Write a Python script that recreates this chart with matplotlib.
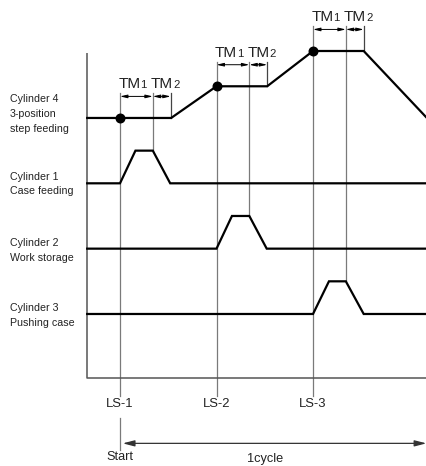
import matplotlib
matplotlib.use('Agg')
import matplotlib.pyplot as plt

plt.rcParams['font.family'] = ['Liberation Sans', 'DejaVu Sans']

# limit switch timings (time units) and their labels
ls_times = [0, 100, 200]
ls_labels = ['LS-1', 'LS-2', 'LS-3']
tm1 = 34      # timer 1 duration
tm2 = 18.5    # timer 2 duration

# signal break points: (time, level)
cyl4_t = [-34, 53, 100, 152.5, 200, 252.5, 318]
cyl4_lv = [0, 0, 0.97, 0.97, 2.05, 2.05, 0]
cyl1_t = [-34, 0, 16, 34, 52, 318]
cyl1_lv = [0, 0, 1, 1, 0, 0]
cyl2_t = [-34, 100, 116, 134, 152, 318]
cyl2_lv = [0, 0, 1, 1, 0, 0]
cyl3_t = [-34, 200, 216.5, 234, 252.5, 318]
cyl3_lv = [0, 0, 1, 1, 0, 0]

# rows: (base offset, times, levels, label)
rows = [
    (6, cyl4_t, cyl4_lv, 'Cylinder 4\n3-position\nstep feeding'),
    (4, cyl1_t, cyl1_lv, 'Cylinder 1\nCase feeding'),
    (2, cyl2_t, cyl2_lv, 'Cylinder 2\nWork storage'),
    (0, cyl3_t, cyl3_lv, 'Cylinder 3\nPushing case'),
]
label_y = [6.12, 3.98, 1.94, -0.05]
cyl4_steps = [0, 0.97, 2.05]   # cylinder 4 level at each LS

fig = plt.figure(figsize=(4.27, 4.66), dpi=100)
ax = fig.add_axes([0, 0, 1, 1])
ax.set_xlim(-124.35, 318.1)
ax.set_ylim(-4.653, 9.611)
ax.axis('off')

grey = '#7a7a7a'
txt = '#222222'

# frame (left and bottom)
ax.plot([-34.2, -34.2, 318.1], [8.0, -1.96, -1.96], color='#555555', lw=1.1,
        clip_on=False, solid_capstyle='butt')

# signals
for (base, t, lv, lab), ly in zip(rows, label_y):
    ax.plot(t, [base + v for v in lv], color='black', lw=1.6,
            solid_joinstyle='miter', zorder=3)
    ax.text(-114, ly, lab, ha='left', va='center', fontsize=7.7,
            color=txt, linespacing=1.6)

# peak rows for the TM1 lines (cyl1, cyl2, cyl3)
peak_y = [5, 3, 1]

for i, (ls, lab) in enumerate(zip(ls_times, ls_labels)):
    lvl = 6 + cyl4_steps[i]
    arrow_y = lvl + 0.66
    top = arrow_y + 0.09
    # LS vertical line
    ax.plot([ls, ls], [top, -2.5], color=grey, lw=0.9, zorder=1)
    ax.text(ls, -2.74, lab, ha='center', va='center', fontsize=9.4, color=txt)
    # TM1 end line down to the cylinder peak
    ax.plot([ls + tm1, ls + tm1], [top, peak_y[i]], color=grey, lw=0.9, zorder=1)
    # TM2 end line down to cylinder 4
    ax.plot([ls + tm1 + tm2, ls + tm1 + tm2], [top, lvl], color='#444444',
            lw=0.9, zorder=1)
    # dimension arrows
    for a, b in [(ls, ls + tm1), (ls + tm1, ls + tm1 + tm2)]:
        ax.annotate('', xy=(b, arrow_y), xytext=(a, arrow_y),
                    arrowprops=dict(arrowstyle='<|-|>,head_length=0.6,head_width=0.14',
                                    color='black', lw=0.7, shrinkA=0, shrinkB=0,
                                    mutation_scale=7))
    # TM labels
    for cx, num in [(ls + 13, '1'), (ls + 47, '2')]:
        anchor = cx + 8
        ax.text(anchor, arrow_y + 0.25, 'TM', ha='right', va='baseline',
                fontsize=11, color=txt)
        ax.text(anchor + 0.2, arrow_y + 0.25, num, ha='left', va='baseline',
                fontsize=8.2, color=txt)
    # cylinder 4 position dot
    ax.scatter([ls], [lvl], s=38, color='black', zorder=4)

# start line and cycle arrow
ax.plot([0, 0], [-3.18, -4.16], color=grey, lw=0.9)
ax.annotate('', xy=(317.5, -3.96), xytext=(2.8, -3.96),
            arrowprops=dict(arrowstyle='<|-|>,head_length=0.7,head_width=0.18',
                            color='#333333', lw=0.9, shrinkA=0, shrinkB=0,
                            mutation_scale=10))
ax.text(0, -4.38, 'Start', ha='center', va='center', fontsize=9.2, color=txt)
ax.text(150, -4.44, '1cycle', ha='center', va='center', fontsize=9.2, color=txt)

fig.savefig('out.png', dpi=100)
